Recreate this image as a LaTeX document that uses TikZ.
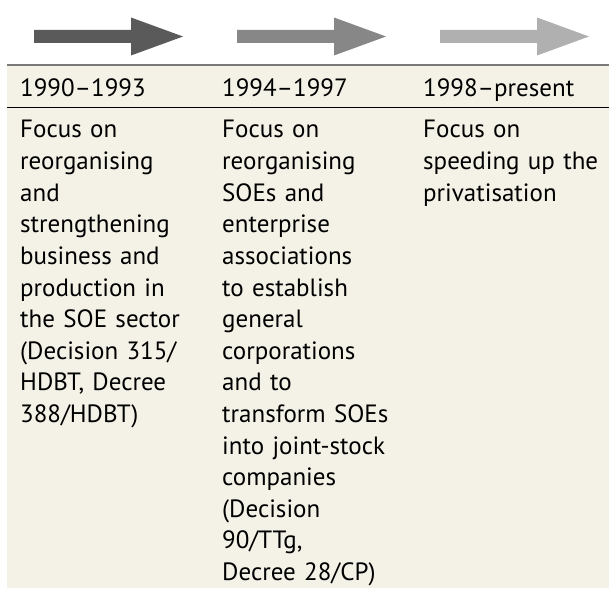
\documentclass[tikz,border=0pt]{standalone}
\usepackage{fontspec}
\setmainfont{PT Sans}
\definecolor{panel}{HTML}{F4F2E7}
\definecolor{toprule}{HTML}{7A7A7A}
\definecolor{arrowA}{HTML}{5A5A5A}
\definecolor{arrowB}{HTML}{878787}
\definecolor{arrowC}{HTML}{B0B0B0}
\begin{document}
\begin{tikzpicture}[x=1pt,y=1pt,
  cell/.style={anchor=base west, inner sep=0pt, align=left, text width=185pt,
    font=\fontsize{25}{31.6}\selectfont},
  pics/timearrow/.style={code={
    \fill[#1] (0,-6.5) -- (97,-6.5) -- (97,-19) -- (149,0)
      -- (97,19) -- (97,6.5) -- (0,6.5) -- cycle;}}]
\useasboundingbox (0,0) rectangle (609,-588);

% table panel and rules
\fill[panel] (7,-65) rectangle (609,-588);
\draw[toprule, line width=1.5pt] (7,-65) -- (609,-65);
\draw[black, line width=1pt] (7,-108) -- (609,-108);

% period arrows
\pic at (34,-36.5) {timearrow=arrowA};
\pic at (237,-36.5) {timearrow=arrowB};
\pic at (440,-36.5) {timearrow=arrowC};

% period headings
\node[cell] (h1) at (20,-97) {1990–1993};
\node[cell] (h2) at (222,-97) {1994–1997};
\node[cell] (h3) at (423,-97) {1998–present};

% period descriptions
\node[cell] (b1) at (20,-138) {Focus on\\reorganising\\and\\strengthening\\business and\\production in\\the SOE sector\\(Decision 315/\\HDBT, Decree\\388/HDBT)};
\node[cell] (b2) at (222,-138) {Focus on\\reorganising\\SOEs and\\enterprise\\associations\\to establish\\general\\corporations\\and to\\transform SOEs\\into joint-stock\\companies\\(Decision\\90/TTg,\\Decree 28/CP)};
\node[cell] (b3) at (423,-138) {Focus on\\speeding up the\\privatisation};
\end{tikzpicture}
\end{document}
